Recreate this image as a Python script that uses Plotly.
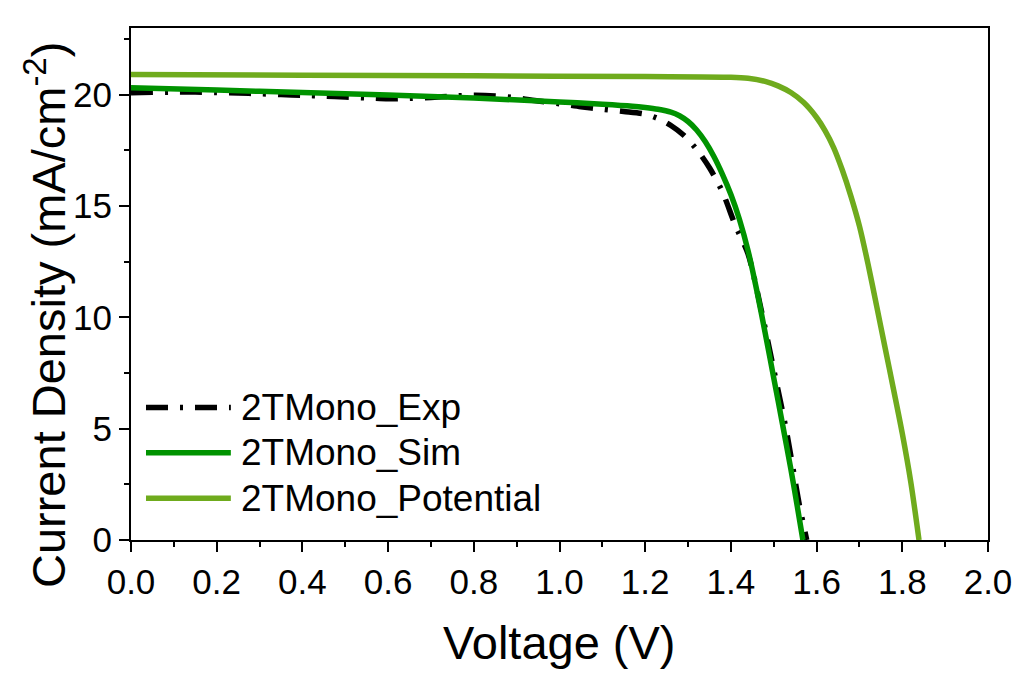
import plotly.graph_objects as go

# J-V curves of the 2T monolithic tandem cell
v_exp = [0.00, 0.05, 0.10, 0.15, 0.20, 0.25, 0.30, 0.35, 0.40, 0.45, 0.50, 0.55,
         0.60, 0.65, 0.70, 0.75, 0.80, 0.85, 0.90, 0.95, 1.00, 1.05, 1.10, 1.15,
         1.20, 1.23, 1.26, 1.29, 1.32, 1.35, 1.38, 1.41, 1.44, 1.47, 1.50, 1.53,
         1.56, 1.577]
j_exp = [20.09, 20.11, 20.12, 20.12, 20.10, 20.08, 20.05, 20.01, 19.98, 19.94, 19.90, 19.86,
         19.82, 19.84, 19.88, 19.94, 19.98, 19.95, 19.86, 19.72, 19.60, 19.46, 19.35, 19.25,
         19.13, 18.93, 18.62, 18.18, 17.55, 16.72, 15.65, 14.15, 12.85, 10.40, 7.65, 4.85,
         1.55, 0.0]

v_sim = [0.00, 0.20, 0.40, 0.60, 0.80, 1.00, 1.10, 1.17, 1.20, 1.23, 1.26, 1.28, 1.30,
         1.32, 1.34, 1.36, 1.38, 1.40, 1.42, 1.44, 1.46, 1.48, 1.50, 1.52, 1.54,
         1.555, 1.568]
j_sim = [20.32, 20.21, 20.10, 19.99, 19.85, 19.68, 19.58, 19.49, 19.43, 19.35, 19.22, 19.06, 18.80,
         18.42, 17.90, 17.24, 16.44, 15.52, 14.40, 13.00, 11.25, 9.30, 7.28, 5.25, 3.18,
         1.50, 0.0]

v_pot = [0.00, 0.40, 0.80, 1.20, 1.40, 1.44, 1.48, 1.51, 1.54, 1.57, 1.60, 1.62,
         1.64, 1.66, 1.68, 1.70, 1.72, 1.74, 1.76, 1.78, 1.80, 1.82, 1.839]
j_pot = [20.91, 20.88, 20.85, 20.82, 20.79, 20.74, 20.60, 20.40, 20.10, 19.65, 18.98, 18.38,
         17.62, 16.62, 15.45, 14.10, 12.40, 10.52, 8.62, 6.72, 4.78, 2.58, 0.0]

names = ["2TMono_Exp", "2TMono_Sim", "2TMono_Potential"]
colors = ["#000000", "#009300", "#6fab1d"]
dashes = ["22px,12px,3px,12px", "solid", "solid"]

FONT = "Liberation Sans, Arial, sans-serif"

fig = go.Figure()
for (vx, jy), name, col, dsh in zip([(v_exp, j_exp), (v_sim, j_sim), (v_pot, j_pot)],
                                    names, colors, dashes):
    fig.add_trace(go.Scatter(x=vx, y=jy, mode="lines", name=name,
                             line=dict(color=col, width=5.5, dash=dsh, shape="spline",
                                       smoothing=0.8)))

axis_common = dict(
    showgrid=False, zeroline=False, showline=True, linecolor="black", linewidth=2,
    mirror=True, ticks="outside", ticklen=10, tickwidth=2, tickcolor="black",
    tickfont=dict(family=FONT, size=35, color="black"),
)
fig.update_xaxes(range=[0, 2.0], dtick=0.2, tickformat=".1f",
                 minor=dict(dtick=0.1, ticks="outside", ticklen=5, tickwidth=2, tickcolor="black"),
                 **axis_common)
fig.update_yaxes(range=[0, 23], dtick=5,
                 minor=dict(dtick=2.5, ticks="outside", ticklen=5, tickwidth=2, tickcolor="black"),
                 **axis_common)

# Legend drawn as line samples + labels inside the lower-left corner
rows_y = [0.259, 0.1705, 0.0814]
for yy, name, col, dsh in zip(rows_y, names, colors, dashes):
    fig.add_shape(type="line", xref="paper", yref="paper", x0=0.0175, x1=0.1165, y0=yy, y1=yy,
                  line=dict(color=col, width=5.5, dash=dsh))
    fig.add_annotation(xref="paper", yref="paper", x=0.126, y=yy, text=name, showarrow=False,
                       xanchor="left", yanchor="middle",
                       font=dict(family=FONT, size=37, color="black"))

# Axis titles
fig.add_annotation(xref="paper", yref="paper", x=0.5, y=-0.2, text="Voltage (V)",
                   showarrow=False, xanchor="center", yanchor="middle",
                   font=dict(family=FONT, size=47, color="black"))
fig.add_annotation(xref="paper", yref="paper", x=-0.1, y=0.44,
                   text="Current Density (mA/cm<sup>-2</sup>)", textangle=-90,
                   showarrow=False, xanchor="center", yanchor="middle",
                   font=dict(family=FONT, size=47, color="black"))

fig.update_layout(
    width=1024, height=675,
    margin=dict(l=131, r=33, t=28, b=135),
    paper_bgcolor="white", plot_bgcolor="white",
    showlegend=False,
)

fig.write_html("out.html")
